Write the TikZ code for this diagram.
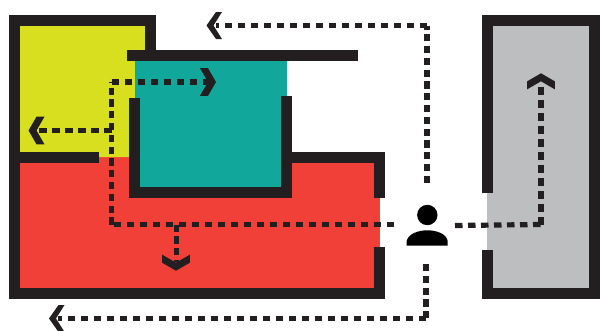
\documentclass[tikz,border=0pt]{standalone}
\definecolor{wall}{HTML}{231F20}
\definecolor{roomyellow}{HTML}{D7DF1F}
\definecolor{roomteal}{HTML}{11A89B}
\definecolor{roomred}{HTML}{F04037}
\definecolor{roomgrey}{HTML}{BCBEC0}
\tikzset{
  wallfill/.style={fill=wall,draw=none},
  route/.style={draw=wall,line width=5.2pt,dash pattern=on 7.5pt off 5.5pt},
  vroute/.style={draw=wall,line width=5.2pt,dash pattern=on 7.2pt off 4.6pt},
  chevron/.pic={\fill[wall] (0,0) -- (8,-13.8) -- (16,-13.8) -- (8,0) -- (16,13.8) -- (8,13.8) -- cycle;},
  slimchevron/.pic={\fill[wall] (0,0) -- (9.5,-13.5) -- (15.5,-13.5) -- (7,0) -- (15.5,13.5) -- (9.5,13.5) -- cycle;}
}
\begin{document}
\begin{tikzpicture}[x=1pt,y=-1pt]
\useasboundingbox (0,0) rectangle (600,330);
% room fills
\fill[roomred] (20,157) rectangle (135,288);
\fill[roomred] (135,163) rectangle (380,288);
\fill[roomyellow] (20,26) -- (145,26) -- (145,61) -- (135,61) -- (135,98) -- (129,98) -- (129,157) -- (20,157) -- cycle;
\fill[roomteal] (135,61) -- (287,61) -- (287,96) -- (281,96) -- (281,187) -- (140,187) -- (140,98) -- (135,98) -- cycle;
\fill[roomgrey] (493,26) rectangle (589,288);
\fill[roomgrey] (487,190) rectangle (493,255);
% walls
\fill[wallfill] (9,15) rectangle (156,26);
\fill[wallfill] (145,15) rectangle (156,52);
\fill[wallfill] (127,50) rectangle (358,61);
\fill[wallfill] (9,15) rectangle (20,298.5);
\fill[wallfill] (9,152) rectangle (99,163);
\fill[wallfill] (9,288) rectangle (385,298.5);
\fill[wallfill] (129,98) rectangle (140,198);
\fill[wallfill] (281,96) rectangle (292,198);
\fill[wallfill] (129,187) rectangle (292,198);
\fill[wallfill] (292,152) rectangle (385,163);
\fill[wallfill] (374,152) rectangle (385,198);
\fill[wallfill] (374,247) rectangle (385,298.5);
\fill[wallfill] (482,15) rectangle (600,26);
\fill[wallfill] (482,15) rectangle (493,193);
\fill[wallfill] (482,250) rectangle (493,298.5);
\fill[wallfill] (589,15) rectangle (600,298.5);
\fill[wallfill] (482,288) rectangle (600,298.5);
% person
\fill[black] (427.3,215) circle (10.2);
\fill[black] (406.7,245.5) -- (406.7,241) .. controls (408,234) and (418,230.3) .. (427.3,230.3) .. controls (437,230.3) and (446.5,234) .. (447.7,241) -- (447.7,245.5) -- cycle;
% route anchors
\coordinate (top0) at (427,183);
\coordinate (top1) at (427,25.5);
\coordinate (top2) at (216,25.5);
\coordinate (bot0) at (426,264);
\coordinate (bot1) at (426,318.5);
\coordinate (bot2) at (58,318.5);
\coordinate (rgt0) at (455,225.5);
\coordinate (rgt1) at (541,224.5);
\coordinate (rgt2) at (541,82);
\coordinate (lft0) at (394,224.5);
\coordinate (lft1) at (111.5,224.5);
\coordinate (lft2) at (111.5,82);
\coordinate (lft3) at (208,82);
\coordinate (brA) at (111.5,130.5);
\coordinate (brA1) at (38,130.5);
\coordinate (brB) at (176.5,224.5);
\coordinate (brB1) at (176.5,262);
% routes
\draw[vroute] (top0) -- (top1);
\draw[route] (top1) -- (top2);
\draw[vroute] (bot0) -- (bot1);
\draw[route] (bot1) -- (bot2);
\draw[route] (rgt0) -- (rgt1);
\draw[route] (rgt1) -- (rgt2);
\draw[route] (lft0) -- (lft1);
\draw[vroute] (lft1) -- (lft2);
\draw[route] (lft2) -- (lft3);
\draw[route] (brA) -- (brA1);
\draw[vroute] (brB) -- (brB1);
% arrowheads
\pic at (206.5,25.5) {slimchevron};
\pic at (49,318.5) {slimchevron};
\pic at (28.5,130.5) {chevron};
\pic[rotate=180] at (216,82) {chevron};
\pic[rotate=-90] at (541,73.3) {chevron};
\pic[rotate=90] at (176,270.7) {chevron};
\end{tikzpicture}
\end{document}
